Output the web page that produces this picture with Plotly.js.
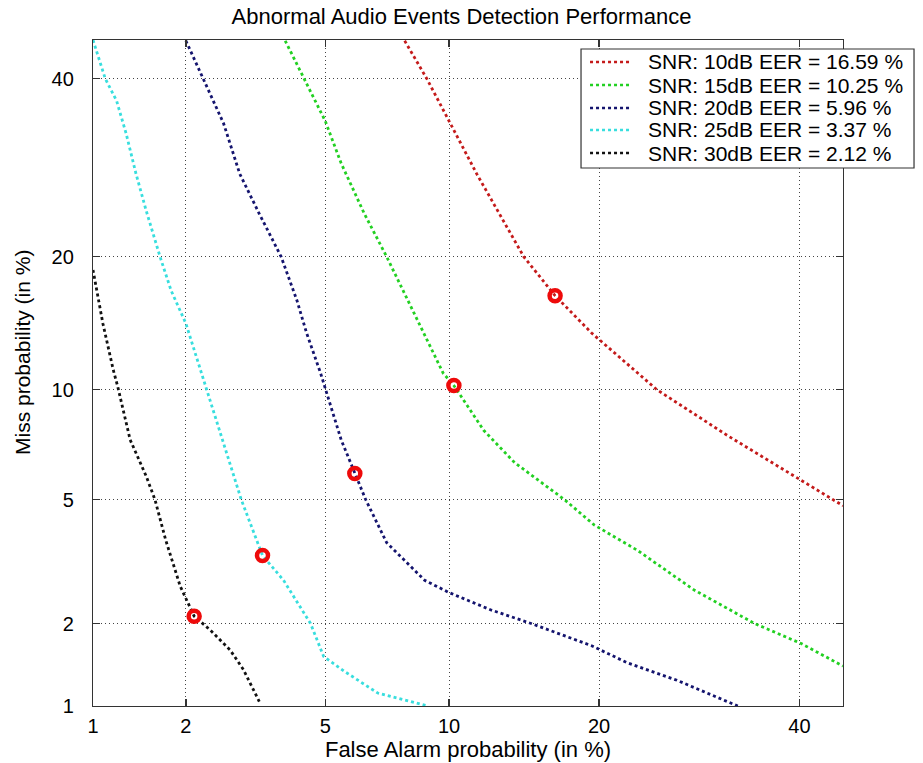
<!DOCTYPE html>
<html>
<head>
<meta charset="utf-8">
<script src="https://cdn.plot.ly/plotly-3.0.1.min.js"></script>
<style>html,body{margin:0;padding:0;background:#fff}#chart{width:923px;height:763px}</style>
</head>
<body>
<div id="chart"></div>
<script>
// Values in percent
const seriesNames = ["SNR: 10dB EER = 16.59 %", "SNR: 15dB EER = 10.25 %", "SNR: 20dB EER = 5.96 %", "SNR: 25dB EER = 3.37 %", "SNR: 30dB EER = 2.12 %"];
const snr10FA   = [7.9, 8.9, 10.0, 11.5, 14.4, 16.59, 19.4, 25.1, 32.1, 40.2, 45];
const snr10Miss = [44.9, 40, 34.7, 28.5, 20, 16.59, 13.7, 10, 7.6, 5.7, 4.8];
const snr15FA   = [3.9, 4.4, 5.0, 5.5, 6.3, 7.15, 8.2, 9.7, 10.25, 11.9, 13.8, 17.3, 19.6, 23.3, 28.7, 35.0, 40.2, 45];
const snr15Miss = [44.9, 40, 34.7, 29.7, 24.2, 20, 15.6, 11.0, 10.25, 7.85, 6.4, 5.0, 4.2, 3.5, 2.6, 2.0, 1.7, 1.41];
const snr20FA   = [2.0, 2.26, 2.6, 2.9, 3.3, 3.8, 4.2, 4.46, 4.86, 5.5, 5.96, 6.35, 7.15, 8.8, 10.0, 12.3, 14.9, 19.4, 22.4, 27.0, 33.2];
const snr20Miss = [44.9, 40, 34.4, 28.5, 24.2, 20, 16.2, 13.7, 11.0, 7.4, 5.96, 5.0, 3.7, 2.8, 2.55, 2.23, 2.0, 1.67, 1.45, 1.25, 1.0];
const snr25FA   = [1.0, 1.1, 1.2, 1.29, 1.39, 1.5, 1.66, 1.8, 2.0, 2.23, 2.48, 2.72, 2.93, 3.37, 3.86, 4.57, 4.95, 5.6, 6.8, 8.95];
const snr25Miss = [45, 40, 37.2, 33.2, 28.5, 24.5, 20, 17.0, 14.4, 11.0, 8.2, 6.25, 5.0, 3.37, 2.8, 2.0, 1.53, 1.35, 1.12, 1.0];
const snr30FA   = [1.0, 1.08, 1.17, 1.21, 1.33, 1.5, 1.6, 1.73, 1.92, 2.12, 2.37, 2.72, 2.97, 3.3];
const snr30Miss = [18.8, 14.4, 11.2, 10.2, 7.4, 5.85, 5.0, 3.77, 2.68, 2.12, 1.9, 1.61, 1.37, 1.04];
const eerValues = [16.59, 10.25, 5.96, 3.37, 2.12];
const tickPercents = [1, 2, 5, 10, 20, 40];
const tickLabels = ["1", "2", "5", "10", "20", "40"];
const axisRange = [1, 45];

// Normal-deviate (probit) scale used by DET plots
function invNorm(p) {
  const a = [-3.969683028665376e+01, 2.209460984245205e+02, -2.759285104469687e+02, 1.383577518672690e+02, -3.066479806614716e+01, 2.506628277459239e+00];
  const b = [-5.447609879822406e+01, 1.615858368580409e+02, -1.556989798598866e+02, 6.680131188771972e+01, -1.328068155288017e+01];
  const c = [-7.784894002430293e-03, -3.223964580411365e-01, -2.400758277161838e+00, -2.549732539343734e+00, 4.374664141464968e+00, 2.938163982698783e+00];
  const d = [7.784695709041462e-03, 3.224671290700398e-01, 2.445134137142996e+00, 3.754408661907416e+00];
  const plow = 0.02425;
  let q, r;
  if (p < plow) {
    q = Math.sqrt(-2 * Math.log(p));
    return (((((c[0]*q+c[1])*q+c[2])*q+c[3])*q+c[4])*q+c[5]) / ((((d[0]*q+d[1])*q+d[2])*q+d[3])*q+1);
  } else if (p <= 1 - plow) {
    q = p - 0.5; r = q*q;
    return (((((a[0]*r+a[1])*r+a[2])*r+a[3])*r+a[4])*r+a[5])*q / (((((b[0]*r+b[1])*r+b[2])*r+b[3])*r+b[4])*r+1);
  } else {
    q = Math.sqrt(-2 * Math.log(1 - p));
    return -(((((c[0]*q+c[1])*q+c[2])*q+c[3])*q+c[4])*q+c[5]) / ((((d[0]*q+d[1])*q+d[2])*q+d[3])*q+1);
  }
}
const pr = v => invNorm(v / 100);
const prArr = arr => arr.map(pr);

const colors = ["#c41a1a", "#22d022", "#14146e", "#38dede", "#111111"];
const allFA = [snr10FA, snr15FA, snr20FA, snr25FA, snr30FA];
const allMiss = [snr10Miss, snr15Miss, snr20Miss, snr25Miss, snr30Miss];

const traces = allFA.map((fa, i) => ({
  type: "scatter", mode: "lines",
  x: prArr(fa), y: prArr(allMiss[i]),
  name: seriesNames[i],
  showlegend: false,
  line: {color: colors[i], width: 2.8, dash: "dot"},
  customdata: fa.map((v, k) => [v, allMiss[i][k]]),
  hovertemplate: "FA %{customdata[0]}%<br>Miss %{customdata[1]}%<extra></extra>"
}));
traces.push({
  type: "scatter", mode: "markers",
  x: prArr(eerValues), y: prArr(eerValues),
  showlegend: false,
  marker: {symbol: "circle-open", size: 11, color: "#ee0a0a", line: {width: 4.5, color: "#ee0a0a"}},
  hoverinfo: "skip"
});

const fontFam = "Liberation Sans, Arial, Helvetica, sans-serif";
const axisCommon = {
  range: axisRange.map(pr),
  tickmode: "array",
  tickvals: prArr(tickPercents),
  ticktext: tickLabels,
  showgrid: true, gridcolor: "#444", griddash: "1px,3px", gridwidth: 1,
  zeroline: false,
  showline: true, mirror: "ticks", linecolor: "#333", linewidth: 1.2,
  ticks: "inside", ticklen: 7, tickcolor: "#333", tickwidth: 1.2,
  tickfont: {family: fontFam, size: 20, color: "#000"}
};

// Legend drawn as a boxed key (paper coordinates), matching the reference's compact rows
const legendRowsY = [0.967, 0.9324, 0.8979, 0.8649, 0.8303];
const shapes = [{
  type: "rect", xref: "paper", yref: "paper", layer: "above",
  x0: 0.6507, x1: 1.0947, y0: 0.8078, y1: 0.9865,
  fillcolor: "#fff", line: {color: "#333", width: 1.2}
}];
const annotations = [];
seriesNames.forEach((name, i) => {
  shapes.push({
    type: "line", xref: "paper", yref: "paper", layer: "above",
    x0: 0.6627, x1: 0.716, y0: legendRowsY[i], y1: legendRowsY[i],
    line: {color: colors[i], width: 2.5, dash: "dot"}
  });
  annotations.push({
    xref: "paper", yref: "paper", x: 0.7373, y: legendRowsY[i],
    xanchor: "left", yanchor: "middle", showarrow: false,
    text: name, font: {family: fontFam, size: 21, color: "#000"}
  });
});
annotations.push({
  xref: "paper", yref: "paper", x: -0.0947, y: 0.5315,
  xanchor: "center", yanchor: "middle", showarrow: false, textangle: -90,
  text: "Miss probability (in %)", font: {family: fontFam, size: 21, color: "#000"}
});

const layout = {
  width: 923, height: 763,
  margin: {l: 93, r: 80, t: 40, b: 57},
  paper_bgcolor: "#fff", plot_bgcolor: "#fff",
  font: {family: fontFam, color: "#000"},
  title: {text: "Abnormal Audio Events Detection Performance", font: {family: fontFam, size: 22, color: "#000"}, x: 0.5, xanchor: "center", y: 0.978, yanchor: "middle"},
  xaxis: Object.assign({}, axisCommon, {
    title: {text: "False Alarm probability (in %)", font: {family: fontFam, size: 22, color: "#000"}, standoff: 3},
    ticklabelstandoff: 2
  }),
  yaxis: Object.assign({}, axisCommon, {
    ticklabelstandoff: 14
  }),
  shapes: shapes,
  annotations: annotations,
  showlegend: false
};

Plotly.newPlot("chart", traces, layout, {displayModeBar: false, staticPlot: true});
</script>
</body>
</html>
